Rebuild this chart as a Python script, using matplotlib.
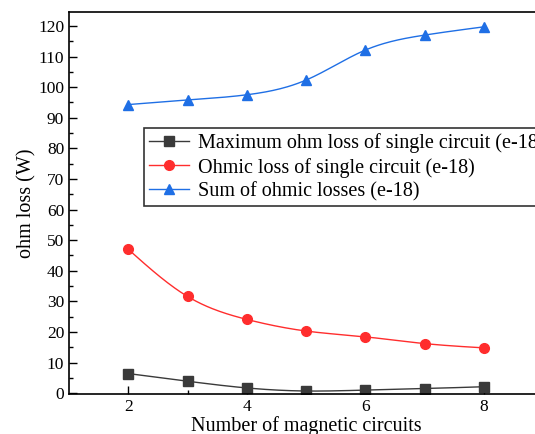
import numpy as np
import matplotlib.pyplot as plt

plt.rcParams['font.family'] = ['Liberation Serif', 'DejaVu Serif']

n_circuits = [2, 3, 4, 5, 6, 7, 8]
max_single = [6.4, 3.9, 1.7, 0.7, 1.0, 1.5, 2.1]
ohmic_single = [47.0, 31.6, 24.1, 20.3, 18.4, 16.2, 14.8]
ohmic_sum = [94.3, 95.8, 97.5, 102.3, 112.1, 117.0, 119.7]

labels = ['Maximum ohm loss of single circuit (e-18)',
          'Ohmic loss of single circuit (e-18)',
          'Sum of ohmic losses (e-18)']


# natural cubic spline through the points, for the smooth connecting line
def spline(x, y, num=200):
    x = np.asarray(x, float); y = np.asarray(y, float)
    n = len(x); h = np.diff(x)
    A = np.zeros((n, n)); b = np.zeros(n)
    A[0, 0] = A[-1, -1] = 1
    for i in range(1, n - 1):
        A[i, i-1] = h[i-1]; A[i, i] = 2*(h[i-1]+h[i]); A[i, i+1] = h[i]
        b[i] = 3*((y[i+1]-y[i])/h[i] - (y[i]-y[i-1])/h[i-1])
    c = np.linalg.solve(A, b)
    xs = np.linspace(x[0], x[-1], num)
    k = np.clip(np.searchsorted(x, xs) - 1, 0, n - 2)
    dx = xs - x[k]
    bb = (y[k+1]-y[k])/h[k] - h[k]*(2*c[k]+c[k+1])/3
    d = (c[k+1]-c[k])/(3*h[k])
    return xs, y[k] + bb*dx + c[k]*dx**2 + d*dx**3


fig = plt.figure(figsize=(5.35, 4.34), dpi=100)
ax = fig.add_axes([0.129, 0.092, 0.886, 0.880])

styles = [('#3a3a3a', 's'), ('#ff2d2d', 'o'), ('#1f6fe5', '^')]
for ys, lab, (col, mk) in zip([max_single, ohmic_single, ohmic_sum], labels, styles):
    xs, sm = spline(n_circuits, ys)
    ax.plot(xs, sm, color=col, lw=1.0)
    ax.plot(n_circuits, ys, ls='none', marker=mk, color=col, ms=7)
    ax.plot([], [], color=col, lw=1.0, marker=mk, ms=7, label=lab)

ax.set_xlim(1, 9)
ax.set_ylim(-0.3, 124.5)
ax.set_xticks([2, 4, 6, 8])
ax.set_xticks([3, 5, 7], minor=True)
ax.set_yticks(np.arange(0, 121, 10))
ax.set_yticks(np.arange(5, 121, 10), minor=True)
ax.tick_params(which='both', direction='in', top=False, right=False, labelsize=12.5)
ax.tick_params(which='major', length=6, width=1)
ax.tick_params(which='minor', length=3, width=1)
for s in ax.spines.values():
    s.set_linewidth(1.2)

ax.set_xlabel('Number of magnetic circuits', fontsize=14.5, labelpad=1)
ax.set_ylabel('ohm loss (W)', fontsize=14.5, labelpad=1)

leg = ax.legend(loc='upper left', bbox_to_anchor=(0.158, 0.696), fontsize=14.5,
                frameon=True, fancybox=False, edgecolor='black',
                handlelength=2.0, borderpad=0.25, labelspacing=0.22,
                handletextpad=0.45, borderaxespad=0)
leg.get_frame().set_linewidth(1.2)

fig.savefig('out.png', dpi=100)
